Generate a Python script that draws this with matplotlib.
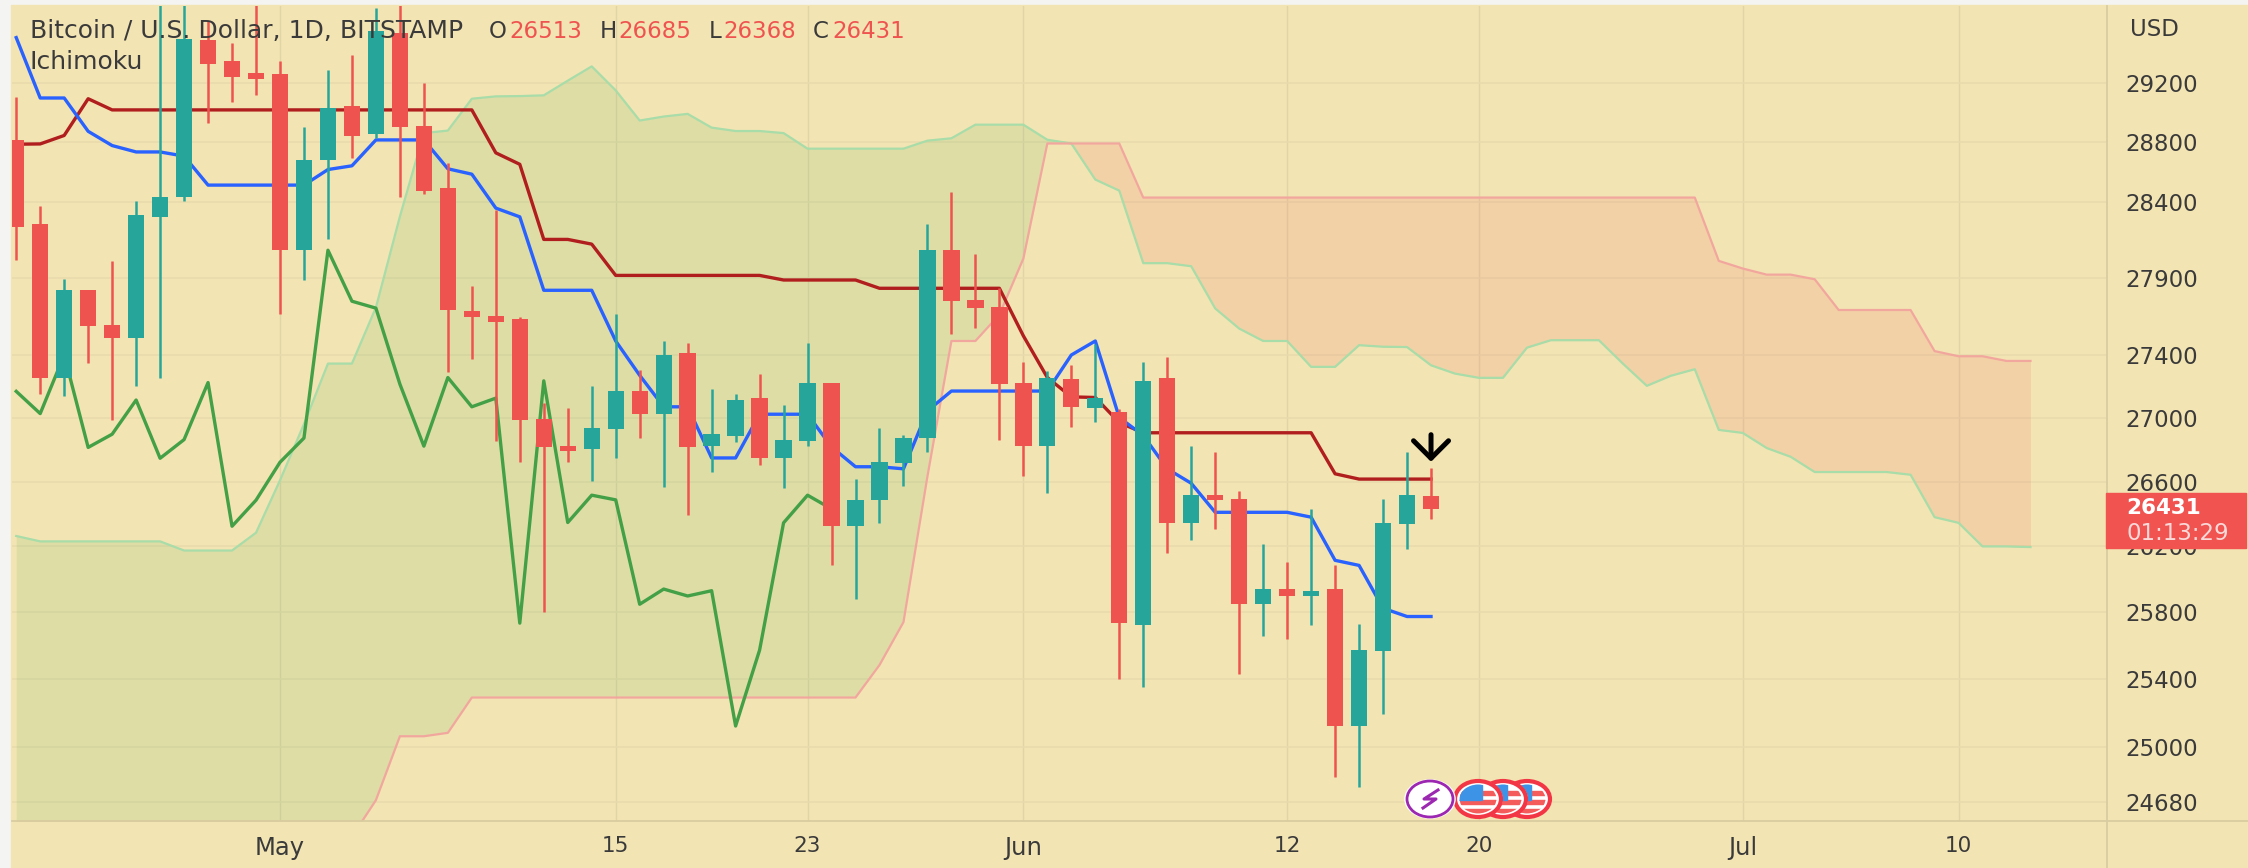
from matplotlib import pyplot as plt
from matplotlib.lines import Line2D
from matplotlib.patches import Ellipse, Rectangle
from matplotlib.ticker import NullLocator
import numpy as np

# days are counted from May 1st
candle_days = list(range(-11, 49))
opens = [28813, 28253, 27250, 27822, 27595, 27509, 28302, 28430, 29496, 29349, 29268, 29265,
         28080, 28678, 29044, 28853, 29547, 28911, 28495, 27686, 27653, 27632, 26992, 26820,
         26802, 26930, 27168, 27027, 27413, 26825, 26886, 27125, 26746, 26854, 27224, 26324,
         26489, 26715, 26875, 28080, 27755, 27707, 27224, 26822, 27245, 27061, 27038, 25720,
         27256, 26347, 26516, 26495, 25848, 25940, 25898, 25940, 25122, 25564, 26337, 26513]
highs = [29104, 28369, 27891, 27822, 28007, 28402, 29900, 30000, 29629, 29477, 29800, 29349,
         28900, 29291, 29389, 29717, 29800, 29202, 28662, 27844, 28347, 27643, 27091, 27062,
         27203, 27665, 27303, 27490, 27479, 27182, 27154, 27281, 27080, 27480, 27224, 26617,
         26936, 26895, 28253, 28462, 28054, 27833, 27358, 27298, 27336, 27469, 27059, 27358,
         27389, 26820, 26787, 26542, 26212, 26106, 26431, 26084, 25728, 26495, 26787, 26685]
lows = [28014, 27150, 27139, 27351, 26985, 27203, 27250, 28406, 28926, 29074, 29121, 27665,
        27885, 28151, 28690, 28825, 28430, 28452, 27294, 27372, 26854, 26722, 25804, 26722,
        26604, 26748, 26875, 26564, 26392, 26660, 26845, 26705, 26561, 26820, 26087, 25882,
        26344, 26571, 26787, 27538, 27573, 26863, 26637, 26530, 26940, 26971, 25398, 25355,
        26159, 26237, 26306, 25428, 25658, 25638, 25722, 24827, 24765, 25190, 26186, 26368]
closes = [28236, 27250, 27822, 27589, 27509, 28309, 28435, 29500, 29333, 29244, 29230, 28080,
          28676, 29030, 28842, 29559, 28902, 28474, 27690, 27647, 27610, 26985, 26814, 26790,
          26936, 27168, 27027, 27400, 26814, 26897, 27113, 26746, 26863, 27224, 26324, 26485,
          26721, 26873, 28080, 27747, 27702, 27214, 26822, 27256, 27070, 27125, 25734, 27235,
          26347, 26516, 26487, 25848, 25940, 25898, 25930, 25122, 25572, 26345, 26516, 26431]

tenkan = [29512, 29098, 29098, 28872, 28776, 28733, 28733, 28705, 28511, 28511, 28511, 28511,
          28511, 28615, 28640, 28814, 28814, 28814, 28620, 28584, 28358, 28300, 27818, 27818,
          27818, 27490, 27270, 27070, 27070, 26748, 26748, 27023, 27023, 27023, 26817, 26693,
          26693, 26680, 27044, 27170, 27170, 27170, 27170, 27170, 27400, 27490, 27002, 26889,
          26680, 26590, 26410, 26410, 26410, 26410, 26380, 26115, 26084, 25824, 25774, 25774]
kijun = [28785, 28787, 28844, 29093, 29017, 29017, 29017, 29017, 29017, 29017, 29017, 29017,
         29017, 29017, 29017, 29017, 29017, 29017, 29017, 29017, 28727, 28650, 28151, 28151,
         28120, 27915, 27915, 27915, 27915, 27915, 27915, 27915, 27885, 27885, 27885, 27885,
         27831, 27831, 27831, 27831, 27831, 27831, 27523, 27256, 27133, 27129, 26970, 26906,
         26906, 26906, 26906, 26906, 26906, 26906, 26906, 26649, 26616, 26616, 26616, 26616]

chikou_days = list(range(-11, 24))
chikou = [27168, 27027, 27400, 26814, 26897, 27113, 26746, 26863, 27224, 26324, 26485, 26721,
          26873, 28080, 27747, 27702, 27214, 26822, 27256, 27070, 27125, 25734, 27235, 26347,
          26516, 26487, 25848, 25940, 25898, 25930, 25122, 25572, 26345, 26516, 26431]

cloud_days = list(range(-11, 74))
span_a = [26264, 26231, 26231, 26231, 26231, 26231, 26231, 26175, 26175, 26175, 26284, 26608,
          26961, 27345, 27345, 27706, 28302, 28860, 28877, 29093, 29109, 29111, 29116, 29216,
          29314, 29150, 28945, 28972, 28990, 28897, 28874, 28874, 28860, 28755, 28755, 28755,
          28755, 28755, 28809, 28825, 28917, 28917, 28917, 28815, 28790, 28548, 28474, 27995,
          27995, 27975, 27700, 27570, 27490, 27490, 27324, 27324, 27463, 27453, 27451, 27334,
          27281, 27254, 27254, 27447, 27495, 27495, 27495, 27345, 27203, 27267, 27309, 26924,
          26905, 26810, 26755, 26660, 26660, 26660, 26660, 26643, 26380, 26345, 26200, 26200,
          26196]
# the first values are under the chart, only a guess
span_b = [24300, 24300, 24300, 24300, 24300, 24300, 24300, 24300, 24300, 24300, 24300, 24300,
          24300, 24300, 24480, 24690, 25062, 25062, 25082, 25290, 25290, 25290, 25290, 25290,
          25290, 25290, 25290, 25290, 25290, 25290, 25290, 25290, 25290, 25290, 25290, 25290,
          25483, 25740, 26633, 27490, 27490, 27660, 28025, 28790, 28790, 28790, 28790, 28428,
          28428, 28428, 28428, 28428, 28428, 28428, 28428, 28428, 28428, 28428, 28428, 28428,
          28428, 28428, 28428, 28428, 28428, 28428, 28428, 28428, 28428, 28428, 28428, 28010,
          27960, 27920, 27920, 27890, 27690, 27690, 27690, 27690, 27425, 27392, 27392, 27362,
          27362]

price_ticks = [29200, 28800, 28400, 27900, 27400, 27000, 26600, 26200, 25800, 25400, 25000, 24680]
date_ticks = [0, 14, 22, 31, 42, 50, 61, 70]
date_labels = ['May', '15', '23', 'Jun', '12', '20', 'Jul', '10']
months = ['May', 'Jun', 'Jul']

BG = '#F3E4B3'
GRID = '#E8DAAB'
LINE = '#D9CCA0'
UP = '#26A69A'
DOWN = '#EF5350'
TEXT = '#3A3A3A'
W, H = 2248, 868


def fx(x):
    return x / W


def fy(y):
    return 1 - y / H


fig = plt.figure(figsize=(W / 100, H / 100), dpi=100, facecolor='#F4F4F2')
fig.add_artist(Rectangle((fx(11), 0), 1, fy(5), transform=fig.transFigure, color=BG, zorder=-5))

ax = fig.add_axes([fx(12), fy(821), 2095 / W, 815 / H], facecolor=BG)
ax.set_yscale('log')
ax.set_xlim(-11.176, 76.19)
ax.set_ylim(24570, 29731)

ax.set_xticks(date_ticks)
ax.set_xticklabels(date_labels)
ax.yaxis.tick_right()
ax.set_yticks(price_ticks)
ax.set_yticklabels([str(p) for p in price_ticks])
ax.yaxis.set_minor_locator(NullLocator())
ax.tick_params(axis='y', length=0, pad=13.5, labelsize=16.5, labelcolor=TEXT)
ax.tick_params(axis='x', length=0, pad=11, labelsize=15.5, labelcolor=TEXT)
# month names are wider than the day numbers
for tick_label in ax.get_xticklabels():
    if tick_label.get_text() in months:
        tick_label.set_fontsize(17.5)
ax.grid(True, axis='y', color=GRID, lw=1.1)
ax.grid(True, axis='x', color='#E1D4A6', lw=1.0)
ax.set_axisbelow(True)
for side in ['top', 'left']:
    ax.spines[side].set_visible(False)
for side in ['right', 'bottom']:
    ax.spines[side].set_color(LINE)
    ax.spines[side].set_linewidth(1.3)

# the axis lines run on to the edge of the picture
fig.add_artist(Line2D([fx(2107), fx(2107)], [fy(821), 0], color=LINE, lw=1.3))
fig.add_artist(Line2D([fx(2107), 1], [fy(821), fy(821)], color=LINE, lw=1.3))

# cloud
a = np.array(span_a)
b = np.array(span_b)
ax.fill_between(cloud_days, a, b, where=a >= b, interpolate=True, color='#4CAF50', alpha=0.12, lw=0)
ax.fill_between(cloud_days, a, b, where=a <= b, interpolate=True, color='#F05350', alpha=0.13, lw=0)
ax.plot(cloud_days, span_a, color='#A8DCA8', lw=1.6)
ax.plot(cloud_days, span_b, color='#F2A79E', lw=1.6)

# ichimoku lines
ax.plot(chikou_days, chikou, color='#43A047', lw=2.4)
ax.plot(candle_days, kijun, color='#B01E1E', lw=2.4)
ax.plot(candle_days, tenkan, color='#2962FF', lw=2.4)

# candles
colors = [UP if c >= o else DOWN for o, c in zip(opens, closes)]
ax.vlines(candle_days, lows, highs, colors=colors, lw=1.8, zorder=4)
bottoms = [min(o, c) for o, c in zip(opens, closes)]
heights = [abs(o - c) for o, c in zip(opens, closes)]
ax.bar(candle_days, heights, bottom=bottoms, width=0.68, color=colors, zorder=5)

# arrow over the last candle
ax.annotate('', xy=(48, 26724), xytext=(48, 26894), zorder=7,
            arrowprops=dict(arrowstyle='->,head_length=0.42,head_width=0.42', color='black',
                            lw=3.6, mutation_scale=30, shrinkA=0, shrinkB=0))

# header text
title_y = fy(31)
fig.text(fx(30), title_y, 'Bitcoin / U.S. Dollar, 1D, BITSTAMP', color=TEXT, fontsize=18, va='center')
for label, x_label, value, x_value in [('O', 489, '26513', 509), ('H', 600, '26685', 618),
                                       ('L', 709, '26368', 723), ('C', 813, '26431', 832)]:
    fig.text(fx(x_label), title_y, label, color=TEXT, fontsize=16.5, va='center')
    fig.text(fx(x_value), title_y, value, color=DOWN, fontsize=16.5, va='center')
fig.text(fx(30), fy(62), 'Ichimoku', color=TEXT, fontsize=18, va='center')
fig.text(fx(2130), fy(29), 'USD', color=TEXT, fontsize=16.5, va='center')

# last price label
fig.add_artist(Rectangle((fx(2106), fy(548)), 140 / W, 55 / H, transform=fig.transFigure, color='#F05350'))
fig.text(fx(2126), fy(508), '26431', color='white', fontsize=15.5, va='center', fontweight='bold')
fig.text(fx(2126), fy(533), '01:13:29', color='#FAD9D8', fontsize=16.5, va='center')

# event icons
rx, ry = 46 / W, 36 / H
for x in [1527, 1503, 1478]:
    outer = Ellipse((fx(x), fy(799)), rx * 1.08, ry * 1.08, transform=fig.transFigure, fc='white', ec='none')
    ring = Ellipse((fx(x), fy(799)), rx, ry, transform=fig.transFigure, fc='white', ec='#F23645', lw=3)
    inner = Ellipse((fx(x), fy(799)), rx * 0.8, ry * 0.8, transform=fig.transFigure, fc='white', ec='none')
    fig.add_artist(outer)
    fig.add_artist(ring)
    fig.add_artist(inner)
    for y_top, h in [(791, 4), (800, 4), (809, 5)]:
        stripe = Rectangle((fx(x - 24), fy(y_top + h)), 48 / W, h / H, transform=fig.transFigure, color='#F45B5B')
        fig.add_artist(stripe)
        stripe.set_clip_path(inner)
    canton = Rectangle((fx(x - 22), fy(800)), 26 / W, 16 / H, transform=fig.transFigure, color='#3D94E6')
    fig.add_artist(canton)
    canton.set_clip_path(inner)

fig.add_artist(Ellipse((fx(1430), fy(799)), rx * 1.12, ry * 1.1, transform=fig.transFigure, fc='white', ec='none'))
fig.add_artist(Ellipse((fx(1430), fy(799)), rx, ry, transform=fig.transFigure, fc='white', ec='#9C27B0', lw=2))
fig.add_artist(Line2D([fx(1438), fx(1424), fx(1436), fx(1423)], [fy(790), fy(799), fy(799), fy(808)],
                      color='#9C27B0', lw=2.2))

plt.savefig('out.png', dpi=100)
